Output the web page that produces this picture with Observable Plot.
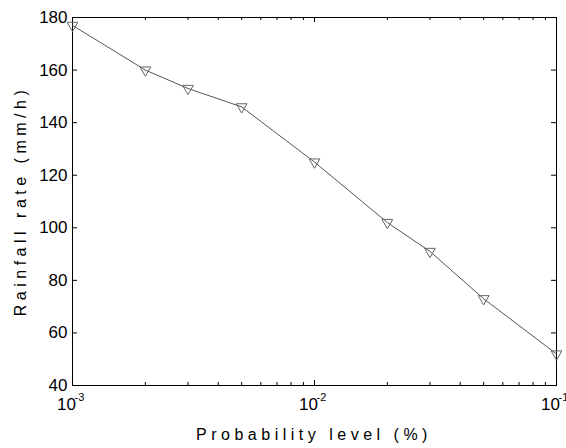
<!DOCTYPE html>
<html><head><meta charset="utf-8">
<script src="https://cdn.jsdelivr.net/npm/d3@7"></script>
<script src="https://cdn.jsdelivr.net/npm/@observablehq/plot@0.6"></script>
<style>body{margin:0;background:#fff;} svg{display:block}</style>
</head><body><div id="chart"></div>
<script>
const probability = [0.001, 0.002, 0.003, 0.005, 0.01, 0.02, 0.03, 0.05, 0.1];
const rainfall = [177, 160, 153, 146, 125, 102, 91, 73, 52];
const yTicks = [40, 60, 80, 100, 120, 140, 160, 180];
const xMajor = [0.001, 0.01, 0.1];
const xExponents = ["-3", "-2", "-1"];
const xMinor = [2,3,4,5,6,7,8,9].flatMap(m => [m*0.001, m*0.01]);
const xLabel = "Probability level (%)";
const yLabel = "Rainfall rate (mm/h)";

const data = probability.map((p, i) => ({p, r: rainfall[i]}));
const mt = 17, mb = 63, H = 448;
const ih = H - mt - mb;
const ml = 72, mr = 10, W = 566;
const iw = W - ml - mr;
const font = "Liberation Sans, Arial, sans-serif";

const chart = Plot.plot({
  width: W, height: H,
  marginLeft: ml, marginRight: mr, marginTop: mt, marginBottom: mb,
  style: {fontFamily: font, fontSize: "17px", background: "#fff", color: "#000"},
  x: {type: "log", domain: [0.001, 0.1], axis: null},
  y: {domain: [40, 180], axis: null},
  marks: [
    Plot.frame({stroke: "#000", strokeWidth: 1}),
    Plot.tickX(xMajor, {x: d => d, insetTop: ih - 5, stroke: "#000"}),
    Plot.tickX(xMajor, {x: d => d, insetBottom: ih - 5, stroke: "#000"}),
    Plot.tickX(xMinor, {x: d => d, insetTop: ih - 3, stroke: "#000"}),
    Plot.tickX(xMinor, {x: d => d, insetBottom: ih - 3, stroke: "#000"}),
    Plot.tickY(yTicks, {y: d => d, insetRight: iw - 5, stroke: "#000"}),
    Plot.tickY(yTicks, {y: d => d, insetLeft: iw - 5, stroke: "#000"}),
    Plot.text(yTicks, {y: d => d, text: d => String(d), frameAnchor: "left", textAnchor: "end", dx: -5, fontSize: 17, fill: "#000"}),
    Plot.text(xMajor, {x: d => d, text: () => "10", frameAnchor: "bottom", textAnchor: "middle", dx: -6, dy: 24, fontSize: 17, fill: "#000"}),
    Plot.text(xMajor, {x: d => d, text: (d, i) => xExponents[i], frameAnchor: "bottom", textAnchor: "start", dx: 2, dy: 15, fontSize: 11, fill: "#000"}),
    Plot.line(data, {x: "p", y: "r", stroke: "#555", strokeWidth: 1}),
    Plot.dot(data, {x: "p", y: "r", symbol: "triangle", rotate: 180, r: 4, stroke: "#666", fill: "none", strokeWidth: 1})
  ]
});

const svg = d3.select(chart);
svg.append("text")
  .attr("x", ml + iw / 2).attr("y", 440)
  .attr("text-anchor", "middle")
  .attr("font-family", font).attr("font-size", 16)
  .attr("letter-spacing", "4.5px")
  .attr("fill", "#000")
  .text(xLabel);
svg.append("text")
  .attr("transform", `translate(26,${mt + ih / 2}) rotate(-90)`)
  .attr("text-anchor", "middle")
  .attr("font-family", font).attr("font-size", 16)
  .attr("letter-spacing", "4.5px")
  .attr("fill", "#000")
  .text(yLabel);
document.getElementById("chart").appendChild(chart);
</script></body></html>
